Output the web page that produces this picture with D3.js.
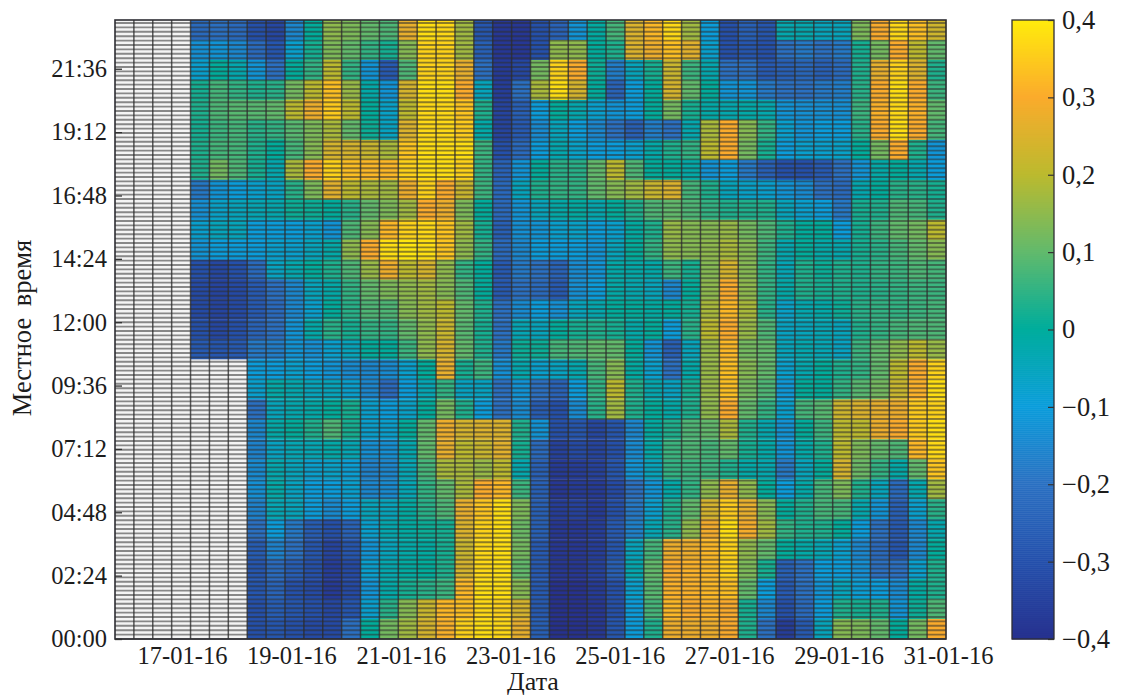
<!DOCTYPE html>
<html><head><meta charset="utf-8">
<script src="https://cdn.jsdelivr.net/npm/d3@7/dist/d3.min.js"></script>
<style>html,body{margin:0;background:#fff}svg{display:block}text{font-family:"Liberation Serif",serif;fill:#1c1c1c}</style>
</head><body><div id="c"></div>
<script>
const _ = null;
const dateLabels = ["17-01-16","19-01-16","21-01-16","23-01-16","25-01-16","27-01-16","29-01-16","31-01-16"];
const dateTickDays = [17,19,21,23,25,27,29,31];
const timeLabels = ["00:00","02:24","04:48","07:12","09:36","12:00","14:24","16:48","19:12","21:36"];
const timeTickHours = [0,2.4,4.8,7.2,9.6,12,14.4,16.8,19.2,21.6];
const colorbarTicks = [0.4,0.3,0.2,0.1,0,-0.1,-0.2,-0.3,-0.4];
const colorStops = [-0.4,-0.3,-0.2,-0.1,0,0.1,0.2,0.3,0.4];
const colorValues = ["#26318f","#2450ac","#2a70c2","#0a9ddb","#00ad9c","#62ba6c","#bcba2e","#fbab2c","#ffec0c"];
const columnCount = 44;
// rows listed top (latest time) to bottom (00:00); columns left to right, 8 h each
const cellValues = [
[_,_,_,_,-.22,-.2,-.22,-.3,-.33,-.15,.0,.15,.13,.1,.08,.27,.38,.37,.17,-.28,-.38,-.38,-.3,-.24,-.12,-.01,.07,.25,.32,.37,.17,-.1,-.3,-.25,-.28,-.03,-.03,-.05,-.05,.13,.3,.37,.33,.23],
[_,_,_,_,-.13,-.12,-.15,-.22,-.28,-.08,.02,.13,.1,.05,.02,.14,.36,.36,.17,-.25,-.38,-.38,-.3,.15,.15,.0,.03,.25,.28,.33,.26,-.08,-.3,-.28,-.3,-.2,-.18,-.2,-.18,.02,.12,.3,.2,.1],
[_,_,_,_,-.08,0,-.03,-.12,-.2,.0,.05,.2,.05,-.12,-.27,.08,.36,.36,.27,-.2,-.37,-.33,.12,.36,.3,.01,-.17,-.05,.02,.22,.06,-.03,-.2,-.2,-.27,-.25,-.23,-.25,-.22,.03,.27,.36,.25,.03],
[_,_,_,_,.02,.07,.05,.03,.04,.12,.2,.33,.16,-.02,-.12,.24,.38,.38,.3,-.05,-.36,-.2,.18,.38,.24,.0,-.24,-.1,.0,.24,.1,.0,-.12,-.12,-.18,-.2,-.2,-.18,-.17,.04,.3,.38,.3,.06],
[_,_,_,_,.03,.08,.09,.09,.1,.2,.28,.35,.2,0,-.07,.2,.37,.37,.34,.03,-.34,-.25,-.1,.0,-.03,-.08,-.12,-.1,.0,.12,.02,-.02,-.03,-.02,-.03,-.12,-.13,-.13,-.13,.06,.31,.37,.31,.1],
[_,_,_,_,.02,.06,.07,.04,.05,.09,.13,.18,.1,.01,-.06,.25,.37,.37,.35,-.02,-.34,-.27,-.14,-.05,-.1,-.15,-.2,-.25,-.17,-.2,-.03,.18,.3,.14,.05,-.08,-.12,-.1,-.1,.04,.3,.38,.3,.07],
[_,_,_,_,.03,.07,.07,.03,.0,.07,.14,.24,.24,.22,.18,.34,.38,.38,.38,.06,-.3,-.22,-.1,-.03,-.07,-.1,-.1,-.08,-.02,.03,.05,.2,.3,.12,.02,-.1,-.08,-.08,-.07,.0,.12,.3,.03,-.12],
[_,_,_,_,.03,.12,.08,.02,-.03,.18,.3,.36,.33,.32,.32,.36,.38,.38,.36,.05,-.24,-.12,.0,.04,.04,.1,.2,.08,.0,.0,-.02,-.12,-.1,-.18,-.25,-.3,-.3,-.27,-.2,-.12,-.02,.0,-.03,-.1],
[_,_,_,_,-.18,-.12,-.1,-.08,-.06,.04,.13,.26,.2,.18,.17,.28,.36,.3,.22,.06,-.22,-.05,.03,.05,.05,.1,.14,.17,.22,.25,.07,.03,-.05,-.07,-.08,-.12,-.14,-.2,-.22,-.03,.0,.04,.04,.02],
[_,_,_,_,-.13,-.07,-.05,-.04,-.03,.01,.01,.0,.04,.1,.13,.17,.3,.28,.13,.0,-.22,-.12,-.05,-.02,-.01,-.03,.0,.03,.08,.1,.08,.05,.03,.03,.03,-.05,-.08,-.1,-.18,.02,.03,.08,.07,.03],
[_,_,_,_,-.08,-.05,-.05,-.1,-.1,-.1,-.08,-.12,.08,.14,.32,.36,.37,.34,.17,.02,-.25,-.13,-.12,-.08,-.07,-.1,-.08,-.01,.03,.16,.14,.14,.16,.12,.08,.03,.0,.0,-.1,.02,.06,.1,.12,.2],
[_,_,_,_,-.12,-.1,-.1,-.1,-.08,-.08,-.05,-.02,.15,.3,.38,.39,.38,.34,.15,.05,-.22,-.15,-.1,-.1,-.1,-.12,-.05,.0,.05,.15,.14,.15,.18,.14,.06,-.03,.0,-.02,-.03,.02,.04,.07,.1,.14],
[_,_,_,_,-.3,-.33,-.3,-.22,-.06,-.03,.0,.03,.08,.16,.28,.2,.24,.15,.05,.0,-.27,-.18,-.2,-.24,-.14,-.12,-.02,-.02,-.02,.06,.02,.14,.24,.14,.05,-.04,.03,.01,.03,.03,.05,.06,.08,.07],
[_,_,_,_,-.32,-.34,-.32,-.27,-.2,-.15,-.05,-.02,.05,.1,.13,.15,.17,.14,.08,.0,-.27,-.2,-.22,-.27,-.13,-.1,-.02,-.03,-.05,-.15,.0,.15,.3,.15,.05,-.02,.03,.02,.03,.03,.04,.05,.06,.06],
[_,_,_,_,-.32,-.34,-.32,-.27,-.22,-.15,-.08,.0,.04,.08,.08,.14,.17,.2,.1,.03,-.2,-.14,-.1,-.13,-.05,-.03,.0,.0,-.01,.0,.02,.18,.32,.18,.04,-.07,-.03,-.02,.01,.04,.05,.05,.06,.07],
[_,_,_,_,-.3,-.33,-.3,-.24,-.2,-.12,-.02,.04,.02,.05,.05,.1,.15,.22,.09,.02,-.2,-.04,-.05,.0,.02,.03,.02,-.02,.0,-.1,.04,.2,.3,.16,.08,-.06,-.05,-.04,-.05,.03,.05,.07,.08,.08],
[_,_,_,_,-.27,-.28,-.27,-.18,-.17,-.12,-.13,-.08,-.05,.0,.0,.06,.15,.24,.1,.03,-.18,.01,.01,.07,.08,.1,.1,.0,-.12,-.25,-.05,.16,.32,.12,.1,-.05,-.03,-.04,-.06,.06,.1,.15,.2,.16],
[_,_,_,_,_,_,_,-.1,-.1,-.08,-.1,-.12,-.14,-.15,-.14,-.08,.0,.27,.02,.06,-.13,-.03,-.08,-.06,-.03,.07,.14,-.01,-.08,-.2,-.02,.16,.33,.14,.1,-.08,-.03,0,.03,.05,.1,.2,.3,.36],
[_,_,_,_,_,_,_,-.08,-.02,-.03,-.05,-.05,-.08,-.15,-.22,-.1,-.04,.05,-.06,-.06,-.2,-.12,-.2,-.24,-.1,.05,.2,.03,-.03,-.06,.02,.16,.33,.12,.08,-.11,.0,.0,.05,.09,.12,.22,.31,.38],
[_,_,_,_,_,_,_,-.2,-.05,-.03,-.02,.0,.02,-.08,-.1,-.07,.0,.12,.03,-.1,-.2,-.14,-.26,-.3,-.14,.04,.17,.03,.0,-.02,.03,.15,.3,.1,.05,-.08,.07,.09,.23,.25,.27,.28,.35,.36],
[_,_,_,_,_,_,_,-.15,-.02,.0,.03,.08,.02,-.08,-.08,.0,.1,.28,.24,.25,.25,.03,-.12,-.3,-.28,-.33,-.28,-.15,-.01,.03,.08,.1,.18,.03,-.03,-.12,.0,.06,.2,.2,.28,.3,.35,.38],
[_,_,_,_,_,_,_,-.16,-.06,-.04,-.04,-.02,-.04,-.13,-.13,-.03,.1,.27,.2,.22,.26,.02,-.22,-.35,-.32,-.34,-.3,-.14,-.02,.06,.08,.07,.1,.02,-.02,-.12,-.02,.03,.2,.13,.1,.08,.32,.37],
[_,_,_,_,_,_,_,-.14,-.03,-.05,-.08,-.07,-.09,-.16,-.15,-.04,.07,.18,.18,.16,.2,-.03,-.25,-.37,-.36,-.35,-.28,-.12,-.05,.05,.06,.06,.03,-.02,-.03,-.18,-.05,.0,.24,.11,.05,-.02,.1,.34],
[_,_,_,_,_,_,_,-.13,-.02,-.06,-.1,-.1,-.08,-.15,-.14,-.04,.05,.1,.18,.3,.32,.06,-.25,-.38,-.37,-.37,-.32,-.2,-.12,-.02,.05,.15,.27,.15,.0,-.1,-.02,.07,.13,.03,-.05,-.22,-.03,.17],
[_,_,_,_,_,_,_,-.16,-.04,-.05,-.1,-.14,-.1,-.05,-.05,-.01,.04,.08,.27,.34,.38,.13,-.25,-.36,-.35,-.37,-.3,-.18,-.08,.03,.1,.24,.35,.27,.14,.0,.03,.07,.07,-.03,-.12,-.25,-.08,.04],
[_,_,_,_,_,_,_,-.2,-.1,-.18,-.26,-.3,-.24,-.08,-.03,-.01,.01,.02,.25,.36,.38,.11,-.25,-.38,-.38,-.36,-.27,-.16,-.04,.04,.15,.29,.38,.29,.17,.05,.03,.03,.0,-.1,-.2,-.27,-.15,-.03],
[_,_,_,_,_,_,_,-.26,-.16,-.2,-.28,-.34,-.28,-.12,-.05,-.02,-.01,.02,.22,.37,.38,.12,-.27,-.38,-.38,-.36,-.28,-.05,.07,.28,.28,.32,.36,.15,.1,.0,-.02,-.04,-.08,-.15,-.22,-.28,-.15,.0],
[_,_,_,_,_,_,_,-.28,-.22,-.26,-.3,-.36,-.32,-.08,-.03,-.01,.0,.03,.24,.37,.38,.1,-.27,-.38,-.38,-.35,-.25,-.03,.1,.3,.31,.32,.36,.13,.02,-.25,-.2,-.1,-.1,-.13,-.2,-.2,-.08,.03],
[_,_,_,_,_,_,_,-.28,-.24,-.3,-.32,-.37,-.32,-.12,-.02,.02,.04,.06,.32,.38,.38,.14,-.27,-.4,-.4,-.37,-.3,-.08,.09,.31,.31,.32,.33,.1,-.1,-.27,-.2,-.12,-.05,-.09,-.1,-.14,-.01,.03],
[_,_,_,_,_,_,_,-.3,-.26,-.28,-.3,-.33,-.28,-.08,.04,.14,.22,.32,.33,.37,.36,.24,-.27,-.4,-.4,-.38,-.3,-.1,.07,.32,.3,.31,.3,.02,-.15,-.3,-.22,-.1,.03,.02,.03,-.12,.01,.08],
[_,_,_,_,_,_,_,-.3,-.28,-.3,-.32,-.32,-.2,.0,.12,.17,.24,.31,.36,.38,.37,.27,-.25,-.4,-.4,-.38,-.28,-.1,.03,.28,.28,.28,.3,.03,-.2,-.36,-.27,-.05,.14,.13,.1,.0,.12,.3]
];

const W=1121,H=698;
const plot={l:115,r:946,t:20,b:639};
const bar={l:1012,r:1054};
const svg=d3.select("#c").append("svg").attr("width",W).attr("height",H);
const hourTop=(plot.b-plot.t)/26.4;
const x=d3.scaleBand().domain(d3.range(columnCount)).range([plot.l,plot.r]).paddingInner(0).paddingOuter(0);
const y=d3.scaleBand().domain(d3.range(cellValues.length)).range([plot.t,plot.b]);
const yHour=d3.scaleLinear().domain([0,hourTop]).range([plot.b,plot.t]);
const xDay=d3.scaleLinear().domain([17,31]).range([182,948]);
const color=d3.scaleLinear().domain(colorStops).range(colorValues).clamp(true);
const cv=d3.scaleLinear().domain([-0.4,0.4]).range([plot.b,plot.t]);

// cells
const cells=cellValues.flatMap((row,r)=>row.map((v,c)=>({r,c,v})));
svg.append("g").selectAll("rect").data(cells).join("rect")
  .attr("x",d=>x(d.c)).attr("y",d=>y(d.r))
  .attr("width",x.bandwidth()+.3).attr("height",y.bandwidth()+.3)
  .attr("fill",d=>d.v===null?"#f4f4f4":color(d.v));
// 10-minute grid
const g=svg.append("g").attr("fill","none");
g.selectAll("line.h").data(d3.range(0,hourTop,1/6)).join("line").attr("class","h")
  .attr("x1",plot.l).attr("x2",plot.r).attr("y1",d=>yHour(d)).attr("y2",d=>yHour(d))
  .attr("stroke","#303030").attr("stroke-opacity",.55).attr("stroke-width",1.9);
g.selectAll("line.v").data(d3.range(1,columnCount)).join("line").attr("class","v")
  .attr("y1",plot.t).attr("y2",plot.b).attr("x1",d=>x(d)).attr("x2",d=>x(d))
  .attr("stroke","#2b2b2b").attr("stroke-opacity",.78).attr("stroke-width",1.5);
svg.append("rect").attr("x",plot.l).attr("y",plot.t).attr("width",plot.r-plot.l).attr("height",plot.b-plot.t)
  .attr("fill","none").attr("stroke","#2d2d33").attr("stroke-width",1.6);

// axes
const ax=svg.append("g").attr("transform",`translate(${plot.l},0)`).call(
  d3.axisLeft(yHour).tickValues(timeTickHours).tickFormat((d,i)=>timeLabels[i]).tickSizeInner(-7).tickSizeOuter(0).tickPadding(8));
ax.select(".domain").remove();
ax.selectAll("line").attr("stroke","#333").attr("stroke-width",1.3);
ax.selectAll("text").attr("font-size",24.5).style("font-family",'"Liberation Serif",serif').attr("fill","#1c1c1c");
const bx=svg.append("g").attr("transform",`translate(0,${plot.b})`).call(
  d3.axisBottom(xDay).tickValues(dateTickDays).tickFormat((d,i)=>dateLabels[i]).tickSize(0).tickPadding(8));
bx.select(".domain").remove();
bx.selectAll("text").attr("font-size",24.5).style("font-family",'"Liberation Serif",serif').attr("fill","#1c1c1c");
svg.append("text").attr("x",533).attr("y",690).attr("text-anchor","middle").attr("font-size",26).text("Дата");
svg.append("text").attr("transform","translate(31,328) rotate(-90)").attr("text-anchor","middle").attr("font-size",26.5).attr("word-spacing",5).text("Местное время");

// colour bar
const bh=d3.range(-0.4,0.4,0.8/310);
svg.append("g").selectAll("rect").data(bh).join("rect")
  .attr("x",bar.l).attr("width",bar.r-bar.l).attr("y",d=>cv(d+0.8/310)).attr("height",2.5)
  .attr("fill",d=>color(d));
svg.append("rect").attr("x",bar.l).attr("y",plot.t).attr("width",bar.r-bar.l).attr("height",plot.b-plot.t)
  .attr("fill","none").attr("stroke","#2d2d33").attr("stroke-width",1.3);
const fmt=d=>d===0?"0":(d<0?"\u2212":"")+Math.abs(d).toFixed(1).replace(".",",");
const cb=svg.append("g").attr("transform",`translate(${bar.r},0)`).call(
  d3.axisRight(cv).tickValues(colorbarTicks).tickFormat(fmt).tickSizeInner(-6).tickSizeOuter(0).tickPadding(8));
cb.select(".domain").remove();
cb.selectAll("line").attr("stroke","#333").attr("stroke-width",1.2);
cb.selectAll("text").attr("font-size",26.5).style("font-family",'"Liberation Serif",serif').attr("fill","#1c1c1c");
</script></body></html>
